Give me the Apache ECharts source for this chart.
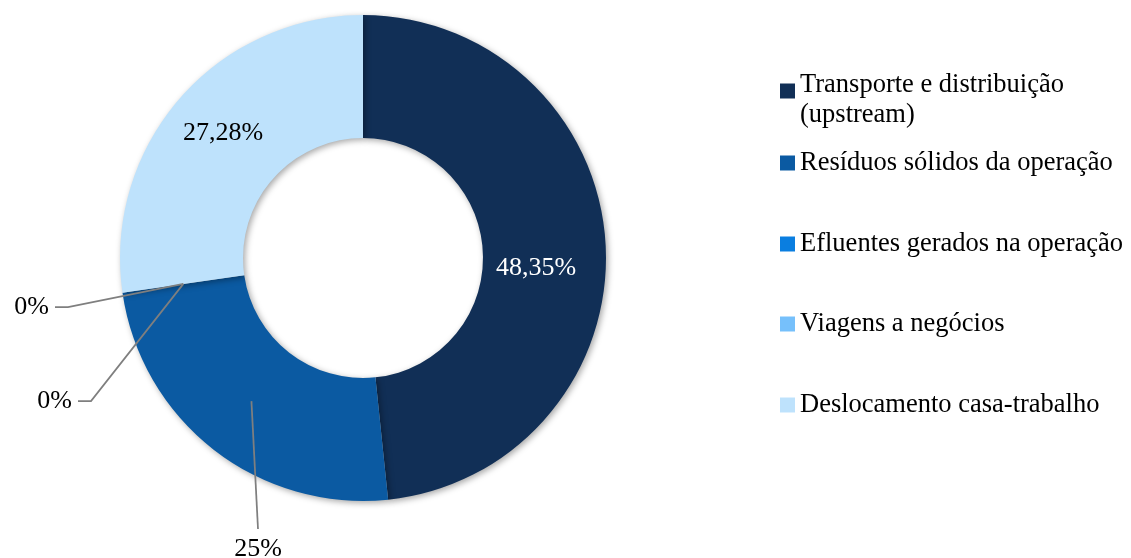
<!DOCTYPE html>
<html>
<head>
<meta charset="utf-8">
<style>
  html, body { margin: 0; padding: 0; background: #fff; }
  #main { width: 1131px; height: 558px; }
</style>
</head>
<body>
<div id="main"></div>
<script src="https://cdn.jsdelivr.net/npm/echarts@6/dist/echarts.min.js"></script>
<script type="text/javascript">
    // categorias e valores (%)
    var categorias = [
        'Transporte e distribuição\n(upstream)',
        'Resíduos sólidos da operação',
        'Efluentes gerados na operação',
        'Viagens a negócios',
        'Deslocamento casa-trabalho'
    ];
    var valores = [48.35, 24.37, 0, 0, 27.28];
    var rotulos = ['48,35%', '25%', '0%', '0%', '27,28%'];
    var cores = ['#112f56', '#0b5aa2', '#0a7ee0', '#76c0fb', '#bee2fc'];

    // geometria do donut
    var centro = [363, 258];
    var raios = [120, 243];

    // posicao dos rotulos (estilo excel)
    var labelPos = [
        {x: 536, y: 268, align: 'center'},
        {x: 258, y: 549, align: 'center'},
        {x: 72, y: 401, align: 'right'},
        {x: 49, y: 307, align: 'right'},
        {x: 223, y: 133, align: 'center'}
    ];
    var legendCentros = [91, 163, 244, 324, 405];

    var fonte = '"Liberation Serif", "Times New Roman", serif';
    var myChart = echarts.init(document.getElementById('main'));

    // ponto de ancoragem da linha guia: meio do anel, no angulo medio da fatia
    var total = valores.reduce(function (a, b) { return a + b; }, 0);
    function ancora(i) {
        var antes = 0;
        for (var k = 0; k < i; k++) antes += valores[k];
        var ang = (antes + valores[i] / 2) / total * 2 * Math.PI;
        var r = (raios[0] + raios[1]) / 2;
        return [centro[0] + r * Math.sin(ang), centro[1] - r * Math.cos(ang)];
    }

    function pontosLinha(i) {
        var a = ancora(i);
        var lp = labelPos[i];
        if (lp.align === 'right') {
            return [a, [lp.x + 19, lp.y], [lp.x + 6, lp.y]];
        }
        // rotulo abaixo
        var fim = [lp.x, lp.y - 20];
        return [a, [(a[0] + fim[0]) / 2, (a[1] + fim[1]) / 2], fim];
    }

    var dados = valores.map(function (v, i) {
        var dentro = (i === 0 || i === 4);
        var item = {
            name: categorias[i],
            value: v,
            itemStyle: {color: cores[i]},
            label: {
                position: dentro ? 'inside' : 'outside',
                color: i === 0 ? '#ffffff' : '#000000'
            },
            labelLine: {show: !dentro}
        };
        if (v === 0) {
            item.itemStyle.shadowBlur = 0;
            item.itemStyle.shadowColor = 'transparent';
        }
        return item;
    });

    var legendas = categorias.map(function (nome, i) {
        var duasLinhas = nome.indexOf('\n') >= 0;
        var leg = {
            data: [nome],
            orient: 'vertical',
            left: 780,
            top: duasLinhas ? legendCentros[i] - 39 : legendCentros[i] - 15,
            padding: 0,
            itemWidth: 15,
            itemHeight: 15,
            icon: 'rect',
            selectedMode: false,
            textStyle: {
                fontFamily: fonte,
                fontSize: 26.5,
                color: '#000',
                lineHeight: 30
            }
        };
        if (duasLinhas) {
            leg.formatter = function (n) {
                return '{sp| }\n' + n.split('\n').map(function (s) { return '{t|' + s + '}'; }).join('\n');
            };
            leg.textStyle.rich = {
                sp: {lineHeight: 18, fontSize: 10},
                t: {fontFamily: fonte, fontSize: 26.5, lineHeight: 30, color: '#000'}
            };
        }
        return leg;
    });

    var option = {
        backgroundColor: '#ffffff',
        animation: false,
        legend: legendas,
        series: [{
            type: 'pie',
            center: centro,
            radius: raios,
            startAngle: 90,
            clockwise: true,
            avoidLabelOverlap: false,
            itemStyle: {
                borderWidth: 0,
                shadowBlur: 6,
                shadowColor: 'rgba(0,0,0,0.35)',
                shadowOffsetX: 2,
                shadowOffsetY: 2
            },
            label: {
                show: true,
                fontFamily: fonte,
                fontSize: 26,
                formatter: function (p) { return rotulos[p.dataIndex]; }
            },
            labelLine: {
                length: 20,
                length2: 12,
                lineStyle: {color: '#7f7f7f', width: 1.75}
            },
            labelLayout: function (p) {
                var i = p.dataIndex;
                var lp = labelPos[i];
                var out = {x: lp.x, y: lp.y, align: lp.align, verticalAlign: 'middle'};
                if (i >= 1 && i <= 3) out.labelLinePoints = pontosLinha(i);
                return out;
            },
            emphasis: {disabled: true},
            data: dados
        }]
    };

    myChart.setOption(option);

    // linhas guia por cima das fatias (como no excel)
    var zr = myChart.getZr();
    zr.storage.getDisplayList(true).forEach(function (el) {
        if (el.type === 'polyline' || el.name === 'labelLine') {
            el.z2 = 1000;
            el.markRedraw();
        }
    });
    zr.refreshImmediately();
</script>
</body>
</html>
